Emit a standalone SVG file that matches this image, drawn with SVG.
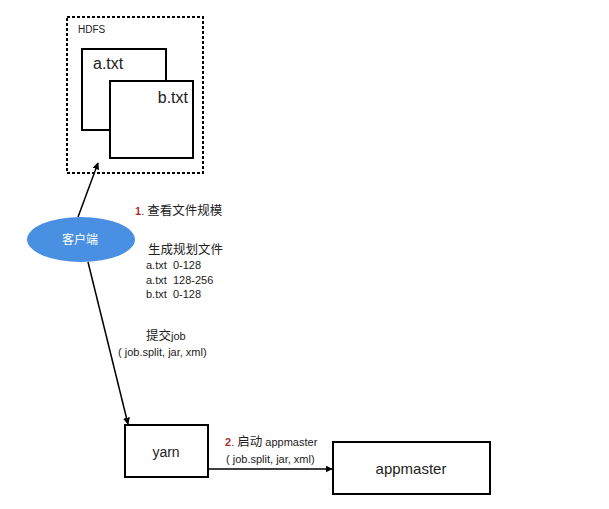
<svg xmlns="http://www.w3.org/2000/svg" width="609" height="509" viewBox="0 0 609 509">
<style>
.box{fill:#fff;stroke:#000;stroke-width:2}
.t{font-family:"Liberation Sans","Noto Sans CJK SC",sans-serif;fill:#222;white-space:pre}
.s{font-size:11px}
.cjk{font-size:12.5px}
.line{stroke:#000;stroke-width:1.5;fill:none}
.red{fill:#b03030;font-weight:bold}
</style>
<defs>
<marker id="arr" viewBox="0 0 10 10" refX="9" refY="5" markerWidth="7" markerHeight="7" orient="auto" markerUnits="userSpaceOnUse">
<path d="M0,0 L10,5 L0,10 z" fill="#000"/>
</marker>
</defs>
<rect width="609" height="509" fill="#fff"/>
<g id="hdfs">
<rect x="67" y="17" width="136" height="156" fill="none" stroke="#000" stroke-width="2" stroke-dasharray="3,2"/>
<text class="t" x="78" y="33" font-size="10">HDFS</text>
</g>
<g id="a-txt">
<rect class="box" x="82" y="49" width="84" height="81"/>
<text class="t" x="93" y="69" font-size="16">a.txt</text>
</g>
<g id="b-txt">
<rect class="box" x="110" y="81" width="83" height="77"/>
<text class="t" x="188" y="103" font-size="16" text-anchor="end">b.txt</text>
</g>
<g id="client">
<ellipse cx="81" cy="239.5" rx="54" ry="22.5" fill="#4a90e2"/>
<text class="t" x="80" y="244" font-size="12" text-anchor="middle" style="fill:#fff">客户端</text>
</g>
<g id="yarn">
<rect class="box" x="125" y="425" width="83" height="52"/>
<text class="t" x="166" y="457" font-size="14" text-anchor="middle">yarn</text>
</g>
<g id="appmaster">
<rect class="box" x="333" y="442" width="157" height="52"/>
<text class="t" x="411" y="474" font-size="15" text-anchor="middle">appmaster</text>
</g>
<g id="connectors">
<line class="line" x1="78" y1="217" x2="98" y2="163" marker-end="url(#arr)"/>
<line class="line" x1="88" y1="262" x2="128" y2="424" marker-end="url(#arr)"/>
<line class="line" x1="208" y1="469" x2="332" y2="469" marker-end="url(#arr)"/>
</g>
<g id="labels">
<text class="t s" x="135" y="215"><tspan class="red">1</tspan>. <tspan class="cjk">查看文件规模</tspan></text>
<text class="t cjk" x="148" y="254">生成规划文件</text>
<text class="t s" x="146" y="269">a.txt  0-128</text>
<text class="t s" x="146" y="284">a.txt  128-256</text>
<text class="t s" x="146" y="298">b.txt  0-128</text>
<text class="t s" x="146" y="340"><tspan class="cjk">提交</tspan>job</text>
<text class="t s" x="118" y="356">( job.split, jar, xml)</text>
<text class="t s" x="225" y="446"><tspan class="red">2</tspan>. <tspan class="cjk">启动</tspan> appmaster</text>
<text class="t s" x="226" y="463">( job.split, jar, xml)</text>
</g>
</svg>
